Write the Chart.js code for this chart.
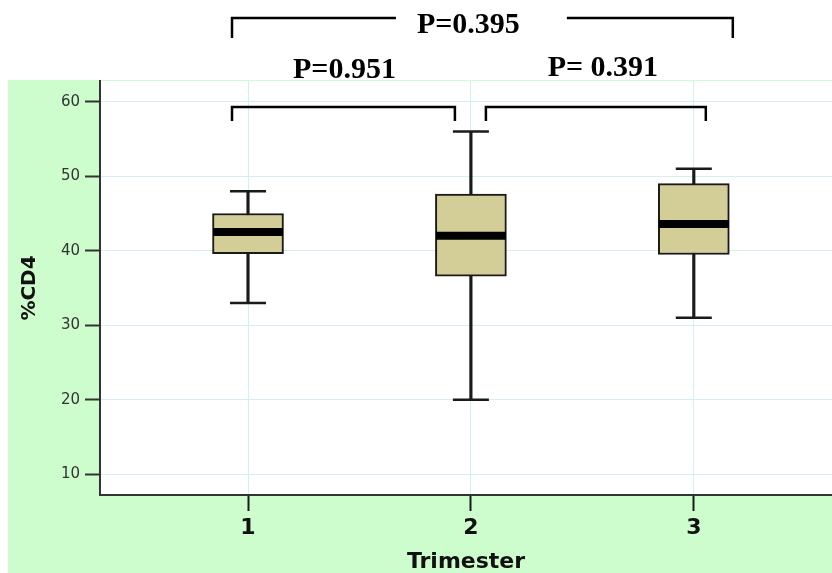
<!DOCTYPE html>
<html>
<head>
<meta charset="utf-8">
<script src="https://cdn.jsdelivr.net/npm/chart.js@4/dist/chart.umd.min.js"></script>
<style>
  html, body { margin: 0; padding: 0; background: #fff; }
  #wrap { width: 832px; height: 573px; }
</style>
</head>
<body>
<div id="wrap"><canvas id="boxChart" width="832" height="573"></canvas></div>
<script>
// values
const trimesters = [1, 2, 3];
const whiskerLow = [33, 20, 31];
const quartile1 = [39.6, 36.6, 39.5];
const medians = [42.5, 42, 43.6];
const quartile3 = [45, 47.6, 49];
const whiskerHigh = [48, 56, 51];
const yTicks = [10, 20, 30, 40, 50, 60];
const comparisons = [[1, 2], [2, 3], [1, 3]];
const pLabels = ["P=0.951", "P= 0.391", "P=0.395"];

const boxFill = "#d3cd98";
const ink = "#1a1a1a";

const pts = (vals) => trimesters.map((t, i) => ({ x: t, y: vals[i] }));

// green page behind the axes, white plot area
const backdrop = {
  id: "backdrop",
  beforeDraw(chart) {
    const { ctx, chartArea: a } = chart;
    ctx.save();
    ctx.fillStyle = "#ffffff";
    ctx.fillRect(0, 0, chart.width, chart.height);
    ctx.fillStyle = "#cdfccd";
    ctx.fillRect(8, a.top - 1, chart.width - 8, chart.height - a.top + 1);
    ctx.fillStyle = "#ffffff";
    ctx.fillRect(a.left, a.top, a.right - a.left, a.bottom - a.top);
    ctx.restore();
  }
};

// significance brackets above the boxes
const brackets = {
  id: "brackets",
  afterDraw(chart) {
    const { ctx, chartArea: a } = chart;
    const xs = chart.scales.x, ys = chart.scales.y;
    const px = (v) => xs.getPixelForValue(v);
    ctx.save();
    ctx.strokeStyle = "#000";
    ctx.lineWidth = 2.5;
    ctx.fillStyle = "#000";
    ctx.font = "bold 30px 'Liberation Serif', 'Times New Roman', serif";
    ctx.textAlign = "center";
    ctx.textBaseline = "middle";

    const lowY = ys.getPixelForValue(59.3);
    const drop = 14;

    // 1 vs 2
    let [a1, b1] = comparisons[0];
    let l = px(a1) - 16, r = px(b1) - 16;
    ctx.beginPath();
    ctx.moveTo(l, lowY + drop); ctx.lineTo(l, lowY); ctx.lineTo(r, lowY); ctx.lineTo(r, lowY + drop);
    ctx.stroke();
    ctx.fillText(pLabels[0], (l + r) / 2 + 1, a.top - 11);

    // 2 vs 3
    let [a2, b2] = comparisons[1];
    l = px(a2) + 15; r = px(b2) + 12;
    ctx.beginPath();
    ctx.moveTo(l, lowY + drop); ctx.lineTo(l, lowY); ctx.lineTo(r, lowY); ctx.lineTo(r, lowY + drop);
    ctx.stroke();
    ctx.fillText(pLabels[1], (l + r) / 2 + 7, a.top - 13);

    // 1 vs 3
    let [a3, b3] = comparisons[2];
    l = px(a3) - 16; r = px(b3) + 39;
    const topY = a.top - 63;
    const tx = (l + r) / 2 - 14;
    const tw = ctx.measureText(pLabels[2]).width;
    ctx.beginPath();
    ctx.moveTo(l, topY + 20); ctx.lineTo(l, topY); ctx.lineTo(tx - tw / 2 - 21, topY);
    ctx.moveTo(tx + tw / 2 + 47, topY); ctx.lineTo(r, topY); ctx.lineTo(r, topY + 20);
    ctx.stroke();
    ctx.fillText(pLabels[2], tx, topY + 7);
    ctx.restore();
  }
};

new Chart(document.getElementById("boxChart").getContext("2d"), {
  type: "bar",
  data: {
    datasets: [
      {
        // whisker stem
        data: trimesters.map((t, i) => ({ x: t, y: [whiskerLow[i], whiskerHigh[i]] })),
        backgroundColor: ink,
        barThickness: 2.5,
        grouped: false,
        order: 4
      },
      {
        // box
        data: trimesters.map((t, i) => ({ x: t, y: [quartile1[i], quartile3[i]] })),
        backgroundColor: boxFill,
        borderColor: ink,
        borderWidth: 2,
        borderSkipped: false,
        barThickness: 71,
        grouped: false,
        order: 3
      },
      {
        // median
        type: "line",
        data: pts(medians),
        showLine: false,
        pointStyle: "line",
        pointRadius: 35,
        pointHoverRadius: 35,
        borderColor: "#000",
        borderWidth: 8,
        order: 1
      },
      {
        // whisker caps
        type: "line",
        data: pts(whiskerHigh).concat(pts(whiskerLow)),
        showLine: false,
        pointStyle: "line",
        pointRadius: 18,
        pointHoverRadius: 18,
        borderColor: ink,
        borderWidth: 2.5,
        order: 2
      }
    ]
  },
  options: {
    responsive: false,
    animation: false,
    events: [],
    layout: { autoPadding: false, padding: { top: 81, left: 0, right: 0, bottom: 0 } },
    plugins: {
      legend: { display: false },
      tooltip: { enabled: false }
    },
    scales: {
      x: {
        type: "linear",
        offset: false,
        min: 0.336,
        max: 3.62,
        afterBuildTicks: (s) => { s.ticks = trimesters.map((v) => ({ value: v })); },
        afterFit: (s) => { s.height = 78; s.paddingLeft = 0; s.paddingRight = 0; },
        grid: {
          offset: false,
          color: "#d3eff3",
          lineWidth: 1,
          tickColor: ink,
          tickWidth: 2,
          tickLength: 16
        },
        border: { color: "#333", width: 2 },
        ticks: {
          padding: 4,
          color: "#111",
          font: { family: "'DejaVu Sans', sans-serif", size: 22, weight: "bold" },
          callback: (v) => String(v)
        },
        title: {
          display: true,
          text: "Trimester",
          color: "#111",
          padding: { top: 0, bottom: 0 },
          font: { family: "'DejaVu Sans', sans-serif", size: 22, weight: "bold", lineHeight: 1 }
        }
      },
      y: {
        min: 7.22,
        max: 62.78,
        afterBuildTicks: (s) => { s.ticks = yTicks.map((v) => ({ value: v })); },
        afterFit: (s) => { s.width = 100; s.paddingTop = 0; s.paddingBottom = 0; },
        grid: {
          color: "#d3eff3",
          lineWidth: 1,
          tickColor: "#333",
          tickWidth: 2,
          tickLength: 15
        },
        border: { color: "#333", width: 2 },
        ticks: {
          padding: 5,
          color: "#333",
          font: { family: "'DejaVu Sans', sans-serif", size: 15 }
        },
        title: {
          display: true,
          text: "%CD4",
          color: "#111",
          padding: { top: 18, bottom: 0 },
          font: { family: "'DejaVu Sans', sans-serif", size: 20, weight: "bold" }
        }
      }
    }
  },
  plugins: [backdrop, brackets]
});
</script>
</body>
</html>
